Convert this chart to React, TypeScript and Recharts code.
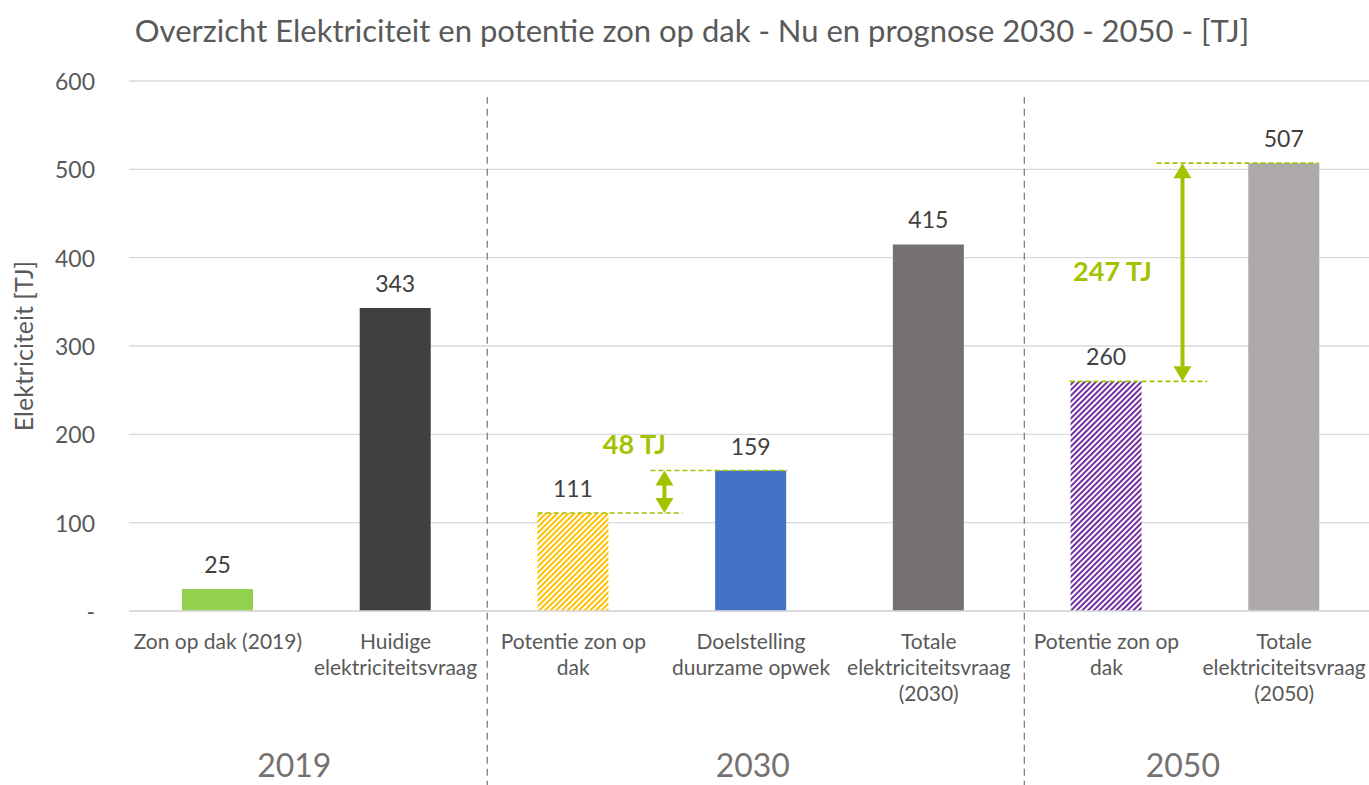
import React from 'react';
import { BarChart, Bar, Cell, XAxis, YAxis, CartesianGrid, LabelList, ReferenceLine, ReferenceDot } from 'recharts';

const categoryIds = ['c0', 'c1', 'c2', 'c3', 'c4', 'c5', 'c6'];
const categoryLines = [
    ['Zon op dak (2019)'],
    ['Huidige', 'elektriciteitsvraag'],
    ['Potentie zon op', 'dak'],
    ['Doelstelling', 'duurzame opwek'],
    ['Totale', 'elektriciteitsvraag', '(2030)'],
    ['Potentie zon op', 'dak'],
    ['Totale', 'elektriciteitsvraag', '(2050)']
];
const values = [25, 343, 111, 159, 415, 260, 507];
const barFills = ['#92D050', '#404040', 'url(#hatchYellow)', '#4472C4', '#767171', 'url(#hatchPurple)', '#AEAAAA'];

const yTicks = [0, 100, 200, 300, 400, 500, 600];

// group labels below the axis, positions in category-band units (0..7)
const groupNames = ['2019', '2030', '2050'];
const groupPos = [0.93, 3.51, 5.93];
const separatorPos = [2.016, 5.038];

// gap annotations: 2030 potentie vs doelstelling, 2050 potentie vs totale vraag
const gapLabels = ['48 TJ', '247 TJ'];
const gapLow = [111, 260];
const gapHigh = [159, 507];
const gapLowSpan = [[2.3, 3.114], [5.292, 6.068]];
const gapHighSpan = [[2.934, 3.705], [5.782, 6.693]];
const gapArrowX = [3.013, 5.928];
const gapLabelPos = [[2.844, 188.5], [5.534, 384]];

const FONT = 'Lato, "Open Sans", sans-serif';
const GREEN = '#A2C400';

const data = categoryIds.map((id, i) => ({ id, value: values[i] }));

// the hidden numeric axis runs over the index range 0..n-1, stretched across all n bands
const N = categoryIds.length;
const toPos = (u: number) => (u * (N - 1)) / N;

const CategoryTick = (props: any) => {
    const { x, y, index } = props;
    const lines = categoryLines[index] || [];
    return (
        <g>
            {lines.map((line, i) => (
                <text key={i} x={x} y={y + 38 + i * 26} textAnchor="middle" fill="#595959" fontSize={21} fontFamily={FONT}>
                    {line}
                </text>
            ))}
        </g>
    );
};

const ValueTick = (props: any) => {
    const { x, y, payload } = props;
    return (
        <text x={x} y={y} textAnchor="end" dominantBaseline="central" fill="#595959" fontSize={23} fontFamily={FONT}>
            {payload.value === 0 ? '-' : payload.value}
        </text>
    );
};

const Arrow = (props: any) => {
    const { x1, y1, y2 } = props;
    const top = Math.min(y1, y2);
    const bot = Math.max(y1, y2);
    const head = 15;
    const hw = 9;
    return (
        <g>
            <line x1={x1} x2={x1} y1={top + head - 1} y2={bot - head + 1} stroke={GREEN} strokeWidth={4} />
            <polygon points={`${x1},${top} ${x1 - hw},${top + head} ${x1 + hw},${top + head}`} fill={GREEN} />
            <polygon points={`${x1},${bot} ${x1 - hw},${bot - head} ${x1 + hw},${bot - head}`} fill={GREEN} />
        </g>
    );
};

export default function App() {
    return (
        <div style={{ position: 'absolute', left: 0, top: 0, width: 1369, height: 785, overflow: 'hidden', background: '#fff' }}>
            <div style={{ position: 'absolute', left: 0, top: 12, width: 1384, textAlign: 'center', fontFamily: FONT, fontSize: 31, lineHeight: '36px', color: '#595959' }}>
                Overzicht Elektriciteit en potentie zon op dak - Nu en prognose 2030 - 2050 - [TJ]
            </div>
            <div style={{ position: 'absolute', left: 23, top: 346, transform: 'translate(-50%, -50%) rotate(-90deg)', whiteSpace: 'nowrap', fontFamily: FONT, fontSize: 25, color: '#595959' }}>
                Elektriciteit [TJ]
            </div>
            <BarChart width={1373} height={785} data={data} margin={{ top: 81, right: 0, bottom: 0, left: 0 }}>
                <defs>
                    <pattern id="hatchYellow" width="4" height="4" patternUnits="userSpaceOnUse" patternTransform="rotate(45)">
                        <rect width="4" height="4" fill="#fff" />
                        <rect width="2" height="4" fill="#FFC000" />
                    </pattern>
                    <pattern id="hatchPurple" width="4" height="4" patternUnits="userSpaceOnUse" patternTransform="rotate(45)">
                        <rect width="4" height="4" fill="#fff" />
                        <rect width="2" height="4" fill="#7030A0" />
                    </pattern>
                </defs>
                <CartesianGrid vertical={false} stroke="#d9d9d9" strokeWidth={1.3} />
                <XAxis dataKey="id" height={174} tickLine={false} tickSize={0} tickMargin={0}
                    axisLine={{ stroke: '#d9d9d9', strokeWidth: 1.3 }} tick={<CategoryTick />} interval={0} />
                <XAxis xAxisId="pos" type="number" domain={[0, N - 1]} allowDataOverflow hide />
                <YAxis domain={[0, 600]} ticks={yTicks} width={129} tickLine={false} axisLine={false} tickSize={0} tickMargin={34}
                    tick={<ValueTick />} />
                <Bar dataKey="value" barSize={71} isAnimationActive={false}>
                    {data.map((d, i) => (
                        <Cell key={d.id} fill={barFills[i]} />
                    ))}
                    <LabelList dataKey="value" position="top" offset={16} fill="#404040" fontSize={23} fontFamily={FONT} />
                </Bar>
                {separatorPos.map((u, i) => (
                    <ReferenceLine key={`sep${i}`} xAxisId="pos" ifOverflow="visible"
                        segment={[{ x: toPos(u), y: -200 }, { x: toPos(u), y: 582 }]}
                        stroke="#7f7f7f" strokeWidth={1.3} strokeDasharray="7 5" />
                ))}
                {gapLabels.map((lbl, i) => (
                    <React.Fragment key={`gap${i}`}>
                        <ReferenceLine xAxisId="pos" ifOverflow="visible"
                            segment={[{ x: toPos(gapLowSpan[i][0]), y: gapLow[i] }, { x: toPos(gapLowSpan[i][1]), y: gapLow[i] }]}
                            stroke={GREEN} strokeWidth={1.6} strokeDasharray="5 3" />
                        <ReferenceLine xAxisId="pos" ifOverflow="visible"
                            segment={[{ x: toPos(gapHighSpan[i][0]), y: gapHigh[i] }, { x: toPos(gapHighSpan[i][1]), y: gapHigh[i] }]}
                            stroke={GREEN} strokeWidth={1.6} strokeDasharray="5 3" />
                        <ReferenceLine xAxisId="pos" ifOverflow="visible"
                            segment={[{ x: toPos(gapArrowX[i]), y: gapLow[i] }, { x: toPos(gapArrowX[i]), y: gapHigh[i] }]}
                            shape={<Arrow />} />
                        <ReferenceDot xAxisId="pos" ifOverflow="visible" x={toPos(gapLabelPos[i][0])} y={gapLabelPos[i][1]} r={1}
                            fill="none" stroke="none"
                            label={{ value: lbl, position: 'center', fill: GREEN, fontSize: 27, fontWeight: 700, fontFamily: FONT }} />
                    </React.Fragment>
                ))}
                {groupNames.map((g, i) => (
                    <ReferenceDot key={g} xAxisId="pos" ifOverflow="visible" x={toPos(groupPos[i])} y={-175} r={1}
                        fill="none" stroke="none"
                        label={{ value: g, position: 'center', fill: '#767171', fontSize: 32, fontFamily: FONT }} />
                ))}
            </BarChart>
        </div>
    );
}
